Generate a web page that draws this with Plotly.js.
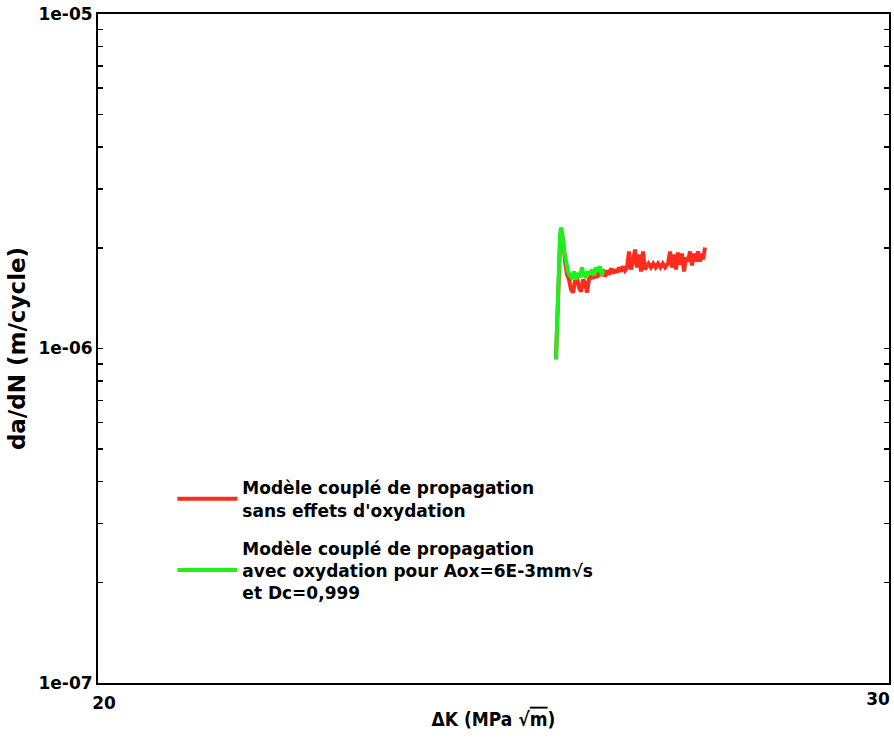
<!DOCTYPE html>
<html>
<head>
<meta charset="utf-8">
<script src="https://cdn.plot.ly/plotly-3.0.1.min.js"></script>
<style>html,body{margin:0;padding:0;background:#fff;}#chart{width:894px;height:738px;}</style>
</head>
<body>
<div id="chart"></div>
<script>
// ΔK (MPa√m) and da/dN (m/cycle) — model without oxidation (red)
const dkRed = [25.79,25.815,25.841,25.860,25.879,25.904,25.929,25.954,25.980,26.005,26.030,26.056,26.081,26.106,26.132,26.157,26.182,26.207,26.233,26.258,26.283,26.308,26.334,26.359,26.384,26.410,26.435,26.460,26.485,26.511,26.536,26.561,26.587,26.612,26.637,26.662,26.688,26.713,26.738,26.764,26.789,26.814,26.839,26.865,26.890,26.915,26.941,26.96,26.99,27.02,27.05,27.08,27.11,27.14,27.17,27.206,27.232,27.257,27.282,27.307,27.333,27.358,27.383,27.408,27.434,27.459,27.484,27.510,27.535,27.560,27.585,27.611,27.636,27.649,27.674];
const dadnRed = [9.39e-7,1.40e-6,2.046e-6,2.238e-6,2.118e-6,1.820e-6,1.664e-6,1.608e-6,1.501e-6,1.470e-6,1.586e-6,1.630e-6,1.521e-6,1.480e-6,1.608e-6,1.575e-6,1.470e-6,1.608e-6,1.652e-6,1.619e-6,1.676e-6,1.630e-6,1.699e-6,1.652e-6,1.723e-6,1.641e-6,1.711e-6,1.664e-6,1.735e-6,1.676e-6,1.723e-6,1.687e-6,1.747e-6,1.699e-6,1.759e-6,1.711e-6,1.747e-6,1.950e-6,1.723e-6,1.820e-6,1.977e-6,1.747e-6,1.910e-6,1.699e-6,1.950e-6,1.723e-6,1.782e-6,1.795e-6,1.747e-6,1.795e-6,1.747e-6,1.795e-6,1.747e-6,1.795e-6,1.747e-6,1.795e-6,1.950e-6,1.747e-6,1.910e-6,1.723e-6,1.936e-6,1.782e-6,1.923e-6,1.699e-6,1.871e-6,1.820e-6,1.950e-6,1.770e-6,1.923e-6,1.820e-6,1.950e-6,1.820e-6,1.923e-6,1.845e-6,2.004e-6];
// model with oxidation (green)
const dkGreen = [25.79,25.815,25.841,25.853,25.866,25.891,25.917,25.942,25.967,25.992,26.018,26.043,26.068,26.094,26.119,26.144,26.169,26.195,26.220,26.245,26.271,26.296,26.321,26.346,26.372,26.384];
const dadnGreen = [9.26e-7,1.501e-6,2.192e-6,2.300e-6,2.238e-6,1.977e-6,1.820e-6,1.699e-6,1.652e-6,1.630e-6,1.699e-6,1.608e-6,1.664e-6,1.652e-6,1.747e-6,1.652e-6,1.641e-6,1.699e-6,1.664e-6,1.723e-6,1.652e-6,1.747e-6,1.699e-6,1.759e-6,1.652e-6,1.723e-6];

const nameRed = "Modèle couplé de propagation<br>sans effets d'oxydation";
const nameGreen = "Modèle couplé de propagation<br>avec oxydation pour Aox=6E-3mm√s<br>et Dc=0,999";

const xRange = [20, 30];
const xTickLeft = [20], xTickLeftText = ["20"];
const xTickRight = [30], xTickRightText = ["30"];
const yTickVals = [1e-7,2e-7,3e-7,4e-7,5e-7,6e-7,7e-7,8e-7,9e-7,1e-6,2e-6,3e-6,4e-6,5e-6,6e-6,7e-6,8e-6,9e-6,1e-5];
const yTickText = ["1e-07","","","","","","","","","1e-06","","","","","","","","","1e-05"];

const FONT = 'DejaVu Sans, sans-serif';

const traces = [
  {x: dkRed, y: dadnRed, type: 'scatter', mode: 'lines', name: nameRed, legendgroup: 'a',
   xaxis: 'x', yaxis: 'y', line: {color: '#ff2b1c', width: 4}},
  {x: dkGreen, y: dadnGreen, type: 'scatter', mode: 'lines', name: nameGreen, legendgroup: 'b',
   xaxis: 'x2', yaxis: 'y', line: {color: '#1ef01e', width: 4}}
];

const tickFont = {family: FONT, size: 17, color: '#000', weight: 'bold'};

const layout = {
  width: 894, height: 738,
  margin: {l: 98, r: 5, t: 14, b: 55},
  paper_bgcolor: '#fff', plot_bgcolor: '#fff',
  showlegend: true,
  legend: {
    x: 0.094, y: 0.318, xanchor: 'left', yanchor: 'top',
    bgcolor: 'rgba(0,0,0,0)', borderwidth: 0,
    traceorder: 'grouped', tracegroupgap: 13, itemwidth: 60,
    font: {family: FONT, size: 17, color: '#000', weight: 'bold'}
  },
  xaxis: {
    type: 'linear', range: xRange,
    tickmode: 'array', tickvals: xTickLeft, ticktext: xTickLeftText,
    ticks: '', showgrid: false, zeroline: false,
    showline: true, linecolor: '#000', linewidth: 2, mirror: true,
    ticklabelshift: 6, ticklabelstandoff: 4, ticklabeloverflow: 'allow',
    tickfont: tickFont,
    title: {text: 'ΔK (MPa √<span style="text-decoration:overline">m</span>)', standoff: 0,
            font: {family: 'DejaVu Sans Condensed, DejaVu Sans, sans-serif', size: 19, color: '#000', weight: 'bold'}}
  },
  xaxis2: {
    type: 'linear', range: xRange, overlaying: 'x', anchor: 'y', side: 'bottom',
    tickmode: 'array', tickvals: xTickRight, ticktext: xTickRightText,
    ticks: '', showgrid: false, zeroline: false, showline: false,
    ticklabelshift: -11, ticklabelstandoff: 4, ticklabeloverflow: 'allow',
    tickfont: tickFont
  },
  yaxis: {
    type: 'log', range: [-7, -5],
    tickmode: 'array', tickvals: yTickVals, ticktext: yTickText,
    ticks: 'inside', ticklen: 5, tickwidth: 1.5, tickcolor: '#000',
    showgrid: false, zeroline: false,
    showline: true, linecolor: '#000', linewidth: 2, mirror: 'ticks',
    tickfont: tickFont,
    title: {text: 'da/dN (m/cycle)', standoff: 6,
            font: {family: FONT, size: 23, color: '#000', weight: 'bold'}}
  }
};

Plotly.newPlot('chart', traces, layout, {displayModeBar: false, staticPlot: true});
</script>
</body>
</html>
